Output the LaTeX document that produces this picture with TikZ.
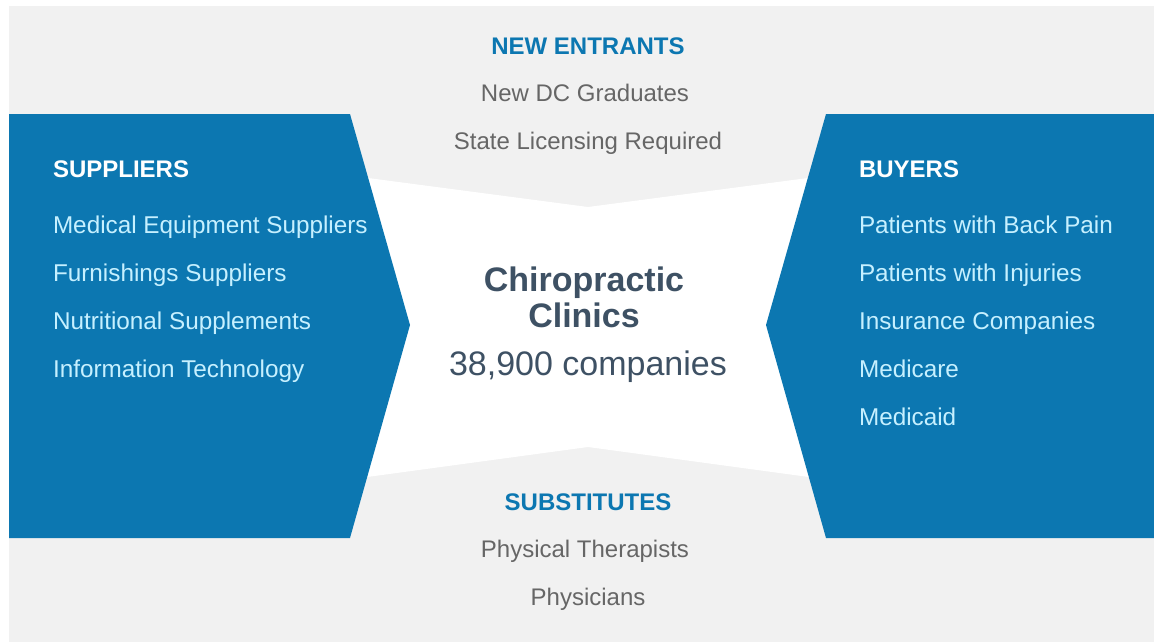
\documentclass[tikz,border=0pt]{standalone}
\usepackage{fontspec}
\setmainfont{Liberation Sans}
\definecolor{panelgray}{HTML}{F1F1F1}
\definecolor{forceblue}{HTML}{0C77B1}
\definecolor{itemcyan}{HTML}{C6F0FF}
\definecolor{itemgray}{HTML}{666666}
\definecolor{coreslate}{HTML}{3E5164}
\begin{document}
\begin{tikzpicture}[x=1pt,y=-1pt,
  every node/.style={inner sep=0pt, outer sep=0pt},
  sidehead/.style={anchor=base west, text=white, font=\fontsize{24}{28}\selectfont\bfseries},
  sideitem/.style={anchor=base west, text=itemcyan, font=\fontsize{24.3}{28}\selectfont},
  midhead/.style={anchor=base, text=forceblue, font=\fontsize{24}{28}\selectfont\bfseries},
  miditem/.style={anchor=base, text=itemgray, font=\fontsize{24}{28}\selectfont},
  corehead/.style={anchor=base, text=coreslate, font=\fontsize{34}{38}\selectfont\bfseries},
  coreitem/.style={anchor=base, text=coreslate, font=\fontsize{34}{38}\selectfont}]
\useasboundingbox (0,0) rectangle (1154,642);

% background panel
\fill[panelgray] (9,6) rectangle (1154,642);

% white centre field with notched top and bottom edges
\fill[white] (340,174.3) -- (588,207) -- (836,174.3) -- (836,480.7)
  -- (588,447) -- (340,480.7) -- cycle;

% suppliers and buyers arrows
\fill[forceblue] (9,114) -- (350,114) -- (410,325) -- (350,538) -- (9,538) -- cycle;
\fill[forceblue] (1154,114) -- (826,114) -- (766,325) -- (826,538) -- (1154,538) -- cycle;

% new entrants
\node[midhead] (newhead) at (588,55) {NEW ENTRANTS};
\node[miditem] (new1) at (585,101) {New DC Graduates};
\node[miditem] (new2) at (588,149) {State Licensing Required};

% suppliers
\node[sidehead] (suphead) at (53,177) {SUPPLIERS};
\node[sideitem] (sup1) at (53,233) {Medical Equipment Suppliers};
\node[sideitem] (sup2) at (53,281) {Furnishings Suppliers};
\node[sideitem] (sup3) at (53,329) {Nutritional Supplements};
\node[sideitem] (sup4) at (53,377) {Information Technology};

% buyers
\node[sidehead] (buyhead) at (859,177) {BUYERS};
\node[sideitem] (buy1) at (859,233) {Patients with Back Pain};
\node[sideitem] (buy2) at (859,281) {Patients with Injuries};
\node[sideitem] (buy3) at (859,329) {Insurance Companies};
\node[sideitem] (buy4) at (859,377) {Medicare};
\node[sideitem] (buy5) at (859,425) {Medicaid};

% industry core
\node[corehead] (core1) at (584,291) {Chiropractic};
\node[corehead] (core2) at (584,327) {Clinics};
\node[coreitem] (core3) at (588,375) {38,900 companies};

% substitutes
\node[midhead] (subhead) at (588,510) {SUBSTITUTES};
\node[miditem] (sub1) at (585,557) {Physical Therapists};
\node[miditem] (sub2) at (588,605) {Physicians};
\end{tikzpicture}
\end{document}
